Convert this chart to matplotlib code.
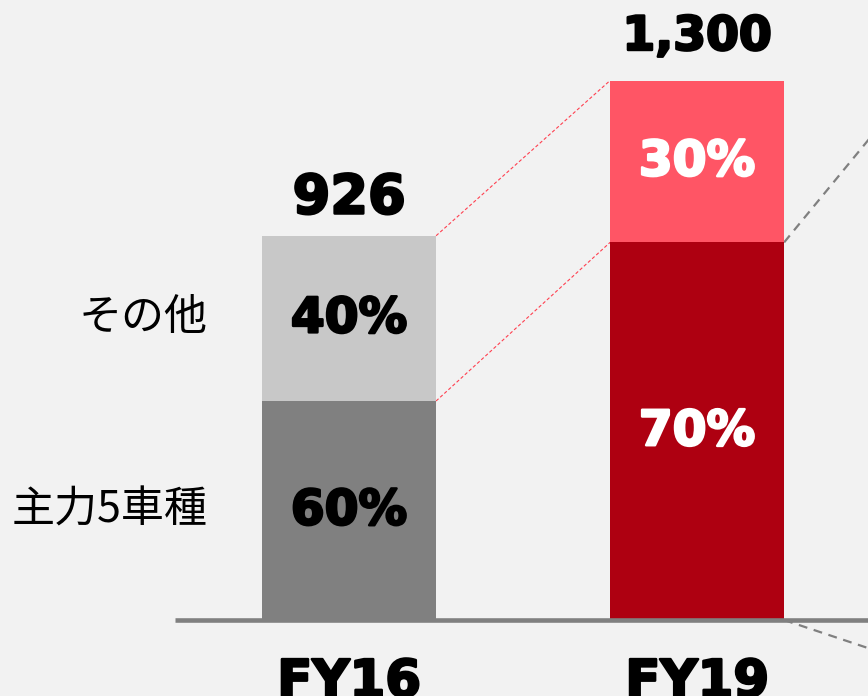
import matplotlib
matplotlib.use('Agg')
import matplotlib.pyplot as plt
import matplotlib.patheffects as pe

# data
years = ['FY16', 'FY19']
totals = [926, 1300]
total_labels = ['926', '1,300']
share_main = [0.57, 0.70]        # drawn heights of the "main 5 models" part
share_other = [0.43, 0.30]
main_labels = ['60%', '70%']
other_labels = ['40%', '30%']
series_names = ['主力5車種', 'その他']

# connector targets towards the (off-picture) next bar on the right
next_x = 1.75
next_top = 1420
next_bottom = -140

main_colors = ['#808080', '#ae0011']
other_colors = ['#c8c8c8', '#ff5565']
main_text = ['black', 'white']
other_text = ['black', 'white']
total_size = [39, 34]
total_pad = [16, 22]

bold = dict(family='DejaVu Sans', weight='bold')
thick = lambda c: [pe.withStroke(linewidth=1.8, foreground=c)]

fig = plt.figure(figsize=(8.68, 6.96), dpi=100, facecolor='#f2f2f2')
ax = fig.add_axes([0, 0, 1, 1])
ax.set_facecolor('#f2f2f2')
ax.set_xlim(-1.003, 1.491)
ax.set_ylim(-183, 1494)
ax.axis('off')

w = 0.5
x = list(range(len(years)))
main_h = [t * s for t, s in zip(totals, share_main)]
other_h = [t * s for t, s in zip(totals, share_other)]
ax.bar(x, main_h, width=w, color=main_colors, zorder=2)
ax.bar(x, other_h, width=w, bottom=main_h, color=other_colors, zorder=2)

# red dotted connectors between the bars
for y0, y1 in [(totals[0], totals[1]), (main_h[0], main_h[1])]:
    ax.plot([x[0] + w / 2, x[1] - w / 2], [y0, y1], color='#ff4050',
            lw=0.8, linestyle=(0, (3, 2)), zorder=1)

# gray dashed connectors going out of the picture
ax.plot([x[1] + w / 2, next_x], [main_h[1], next_top], color='#808080',
        lw=1.6, linestyle=(0, (4, 3)), zorder=1)
ax.plot([x[1] + w / 2, next_x], [0, next_bottom], color='#808080',
        lw=1.6, linestyle=(0, (4, 3)), zorder=1)

# base line
ax.plot([-0.5, 1.491], [0, 0], color='#808080', lw=3.3,
        solid_capstyle='butt', zorder=3)

for i in x:
    ax.annotate(total_labels[i], (i, totals[i]), xytext=(0, total_pad[i]),
                textcoords='offset points', ha='center', va='baseline',
                fontsize=total_size[i], color='black',
                path_effects=thick('black'), **bold)
    ax.text(i, main_h[i] / 2, main_labels[i], ha='center', va='center',
            fontsize=35, color=main_text[i], path_effects=thick(main_text[i]), **bold)
    ax.text(i, main_h[i] + other_h[i] / 2, other_labels[i], ha='center',
            va='center', fontsize=35, color=other_text[i],
            path_effects=thick(other_text[i]), **bold)
    ax.annotate(years[i], (i, 0), xytext=(0, -27), textcoords='offset points',
                ha='center', va='top', fontsize=37, color='black',
                path_effects=thick('black'), **bold)

# series names to the left of the first bar
ax.text(-0.408, main_h[0] / 2, series_names[0], ha='right', va='center',
        fontsize=31, family=['Noto Sans CJK JP', 'DejaVu Sans'])
ax.text(-0.408, main_h[0] + other_h[0] / 2, series_names[1], ha='right',
        va='center', fontsize=31, family=['Noto Sans CJK JP', 'DejaVu Sans'])

fig.savefig('out.png', dpi=100, facecolor=fig.get_facecolor())
